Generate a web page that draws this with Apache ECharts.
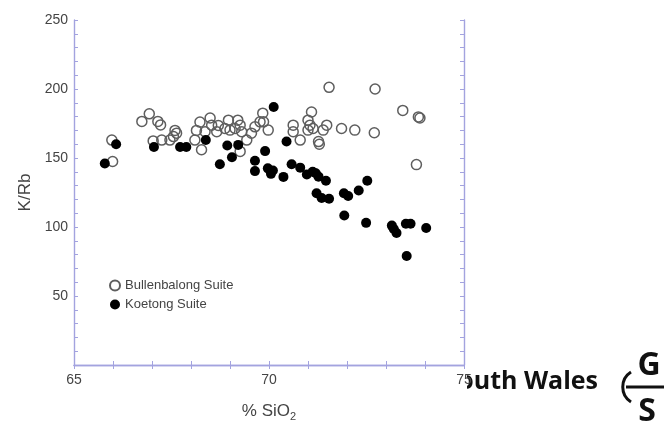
<!DOCTYPE html>
<html>
<head>
<meta charset="utf-8">
<script src="https://cdn.jsdelivr.net/npm/echarts@6/dist/echarts.min.js"></script>
<style>
  html, body { margin: 0; padding: 0; background: #fff; }
  #chart { width: 664px; height: 427px; }
</style>
</head>
<body>
<div id="chart"></div>
<script>
// K/Rb against SiO2 for two granite suites
const bullenbalongSiO2 = [
  65.99, 65.97, 66.74, 66.93, 67.15, 67.22, 67.03, 67.25, 67.59, 67.63,
  67.55, 67.46, 68.23, 68.49, 68.53, 68.14, 68.10, 68.27, 68.36, 68.66,
  68.70, 68.96, 68.87, 69.00, 69.13, 69.26, 69.30, 69.20, 69.43, 69.26,
  69.55, 69.64, 69.77, 69.84, 69.98, 69.86, 71.54, 71.09, 71.00, 71.05,
  71.00, 71.13, 70.62, 70.62, 70.80, 71.27, 71.29, 71.39, 71.48, 71.86,
  72.20, 72.72, 73.43, 73.87, 73.83, 72.70, 73.78
];
const bullenbalongKRb = [
  147.5, 163.0, 176.5, 182.0, 176.5, 174.0, 162.4, 163.0, 170.0, 168.0,
  165.5, 163.0, 176.0, 179.0, 173.8, 170.0, 163.0, 156.0, 169.0, 169.0,
  173.6, 177.4, 171.4, 170.2, 171.4, 173.8, 169.0, 177.4, 163.0, 154.8,
  168.0, 172.6, 176.2, 182.5, 170.2, 176.2, 201.2, 183.3, 177.4, 173.8,
  170.2, 171.4, 173.8, 169.0, 163.0, 161.9, 160.0, 170.2, 173.8, 171.4,
  170.2, 200.0, 184.5, 179.0, 179.8, 168.3, 145.2
];

const koetongSiO2 = [
  65.79, 66.08, 67.05, 67.72, 67.88, 68.38, 68.74, 68.93, 69.05, 69.21,
  69.64, 69.64, 69.90, 69.97, 70.10, 70.05, 70.12, 70.45, 70.37, 70.58,
  70.80, 70.97, 71.12, 71.20, 71.27, 71.46, 71.22, 71.35, 71.54, 71.92,
  72.03, 71.93, 72.30, 72.52, 72.49, 73.15, 73.20, 73.27, 73.51, 73.63,
  74.03, 73.53
];
const koetongKRb = [
  146.0, 160.0, 158.0, 158.0, 158.0, 163.0, 145.5, 159.0, 150.5, 159.5,
  148.0, 140.5, 155.0, 142.5, 141.0, 138.5, 187.0, 162.0, 136.3, 145.5,
  143.0, 138.0, 140.0, 139.0, 136.5, 133.5, 124.5, 121.0, 120.5, 124.5,
  122.5, 108.3, 126.5, 133.5, 103.0, 101.0, 98.5, 95.7, 102.4, 102.4,
  99.3, 79.0
];

const xTickLabels = ['65', '70', '75'];
const yTickLabels = ['50', '100', '150', '200', '250'];

const zip = (xs, ys) => xs.map((x, i) => [x, ys[i]]);

const axisColor = '#a3a3df';
const labelColor = '#444';
const font = 'Liberation Sans, Arial, sans-serif';

const chart = echarts.init(document.getElementById('chart'), null, { renderer: 'canvas' });

const frameAxis = {
  axisLine: { show: true, lineStyle: { color: axisColor, width: 1.4 } },
  axisTick: { show: true, inside: true, length: 4, lineStyle: { color: axisColor } },
  splitLine: { show: false }
};

chart.setOption({
  animation: false,
  backgroundColor: '#fff',
  grid: { left: 74, top: 20, right: 200, bottom: 57, containLabel: false },
  legend: {
    left: 104, top: 274, orient: 'vertical',
    itemWidth: 10, itemHeight: 10, itemGap: 6,
    textStyle: { fontFamily: font, fontSize: 13, color: '#444' },
    data: ['Bullenbalong Suite', 'Koetong Suite']
  },
  xAxis: [
    Object.assign({
      type: 'value', min: 65, max: 75, interval: 1, position: 'bottom', z: 10,
      name: '% SiO{sub|2}', nameLocation: 'middle', nameGap: 36,
      nameTextStyle: {
        fontFamily: font, fontSize: 17, color: labelColor,
        rich: { sub: { fontFamily: font, fontSize: 11, color: labelColor, padding: [10, 0, 0, 0] } }
      },
      axisLabel: {
        fontFamily: font, fontSize: 14, color: labelColor, margin: 8,
        formatter: v => xTickLabels.includes(String(v)) ? String(v) : ''
      }
    }, frameAxis),
    Object.assign({
      type: 'value', min: 65, max: 75, interval: 1, position: 'top',
      axisLabel: { show: false }
    }, frameAxis)
  ],
  yAxis: [
    Object.assign({
      type: 'value', min: 0, max: 250, interval: 10, position: 'left',
      name: 'K/Rb', nameLocation: 'middle', nameGap: 40, nameRotate: 90,
      nameTextStyle: { fontFamily: font, fontSize: 17, color: labelColor },
      axisLabel: {
        fontFamily: font, fontSize: 14, color: labelColor, margin: 6,
        formatter: v => yTickLabels.includes(String(v)) ? String(v) : ''
      }
    }, frameAxis),
    Object.assign({
      type: 'value', min: 0, max: 250, interval: 10, position: 'right',
      axisLabel: { show: false }
    }, frameAxis)
  ],
  series: [
    {
      name: 'Bullenbalong Suite', type: 'scatter', symbol: 'circle', symbolSize: 10,
      data: zip(bullenbalongSiO2, bullenbalongKRb),
      itemStyle: { color: 'rgba(255,255,255,0)', borderColor: '#5e5e5e', borderWidth: 1.5, opacity: 1 },
      z: 2
    },
    {
      name: 'Koetong Suite', type: 'scatter', symbol: 'circle', symbolSize: 10,
      data: zip(koetongSiO2, koetongKRb),
      itemStyle: { color: '#000', opacity: 1 },
      z: 3
    }
  ],
  graphic: [
    {
      type: 'text', z: 1, x: 598, y: 394,
      style: {
        text: 'South Wales', fill: '#111', textAlign: 'right', textVerticalAlign: 'bottom',
        font: 'bold 25px "Open Sans", sans-serif'
      }
    },
    { type: 'rect', z: 2, shape: { x: 400, y: 371, width: 67, height: 30 }, style: { fill: '#fff' } },
    {
      type: 'text', z: 1, x: 649, y: 366,
      style: { text: 'G', fill: '#111', textAlign: 'center', textVerticalAlign: 'middle', font: 'bold 32px "Open Sans", sans-serif' }
    },
    {
      type: 'text', z: 1, x: 647, y: 412,
      style: { text: 'S', fill: '#111', textAlign: 'center', textVerticalAlign: 'middle', font: 'bold 32px "Open Sans", sans-serif' }
    },
    { type: 'line', z: 1, shape: { x1: 626, y1: 387, x2: 664, y2: 387 }, style: { stroke: '#111', lineWidth: 3 } },
    {
      type: 'bezierCurve', z: 1,
      shape: { x1: 631, y1: 372, x2: 631, y2: 402, cpx1: 620, cpy1: 379, cpx2: 620, cpy2: 395 },
      style: { stroke: '#111', lineWidth: 3, fill: null }
    }
  ]
});
</script>
</body>
</html>
